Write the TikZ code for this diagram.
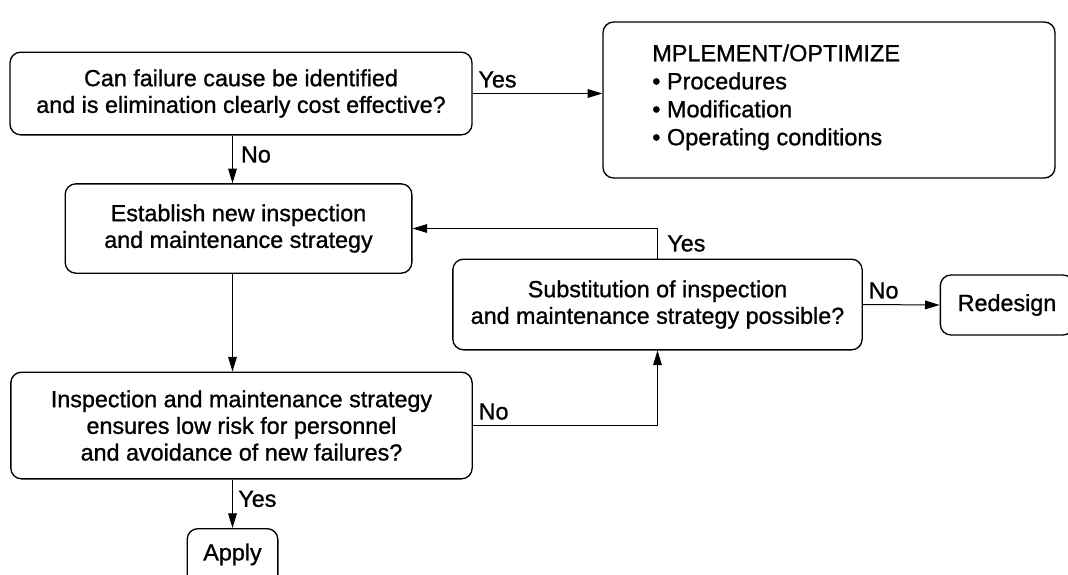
\documentclass[tikz,border=0pt]{standalone}
\usepackage{fontspec}
\setmainfont{Liberation Sans}[FakeBold=1]
\usetikzlibrary{positioning, arrows.meta, calc}

\begin{document}
\begin{tikzpicture}[x=0.75pt, y=-0.75pt,
    every node/.style={font=\fontsize{17.5}{20}\selectfont},
    box/.style={draw, line width=1pt, rounded corners=8pt, align=center, inner sep=0pt},
    line/.style={line width=0.75pt, -{Triangle[length=11pt,width=6.5pt]}},
    lbl/.style={inner sep=4pt}]
    % 画布范围 (与原图同比例)
    \useasboundingbox (0,0) rectangle (1068,575);

    % 左侧的判断与步骤方框
    \node[box, minimum width=346.5pt, minimum height=62pt] (cause) at (241,93.5) {Can failure cause be identified\\and is elimination clearly cost effective?};
    \node[box, minimum width=260pt, minimum height=67pt] (establish) at (238.5,228.5) {Establish new inspection\\and maintenance strategy};
    \node[box, minimum width=346pt, minimum height=80pt] (ensure) at (241.5,425.5) {Inspection and maintenance strategy\\ensures low risk for personnel\\and avoidance of new failures?};
    \node[box, minimum width=68pt, minimum height=44pt, text depth=9pt] (apply) at (232.5,558) {Apply};

    % 右侧的方框
    \node[box, minimum width=339pt, minimum height=117pt] (impl) at (829,100) {};
    \node[anchor=north west, align=left, inner sep=0pt, font=\fontsize{17.6}{21}\selectfont] (implText) at (652,44) {MPLEMENT/OPTIMIZE\\• Procedures\\• Modification\\• Operating conditions};
    \node[box, minimum width=307pt, minimum height=68pt] (subst) at (657.5,304.5) {Substitution of inspection\\and maintenance strategy possible?};
    \node[box, minimum width=100pt, minimum height=45pt] (redesign) at (1007,305) {Redesign};

    % 连线与 Yes / No 标注
    \draw[line] (cause.east) -- (impl.west |- cause.east) node[lbl, pos=0, above right] {Yes};
    \draw[line] (apply |- cause.south) -- (apply |- establish.north) node[lbl, pos=0.4, right, xshift=2pt] {No};
    \draw[line] (apply |- establish.south) -- (apply |- ensure.north);
    \draw[line] (subst.north) |- (establish.east) node[lbl, pos=0.25, right, xshift=3pt] {Yes};
    \draw[line] (subst.east) -- (redesign.west) node[lbl, pos=0, above right] {No};
    \draw[line] (ensure.east) -| (subst.south) node[lbl, pos=0, above right] {No};
    \draw[line] (apply |- ensure.south) -- (apply.north) node[lbl, pos=0.4, right] {Yes};
\end{tikzpicture}
\end{document}
